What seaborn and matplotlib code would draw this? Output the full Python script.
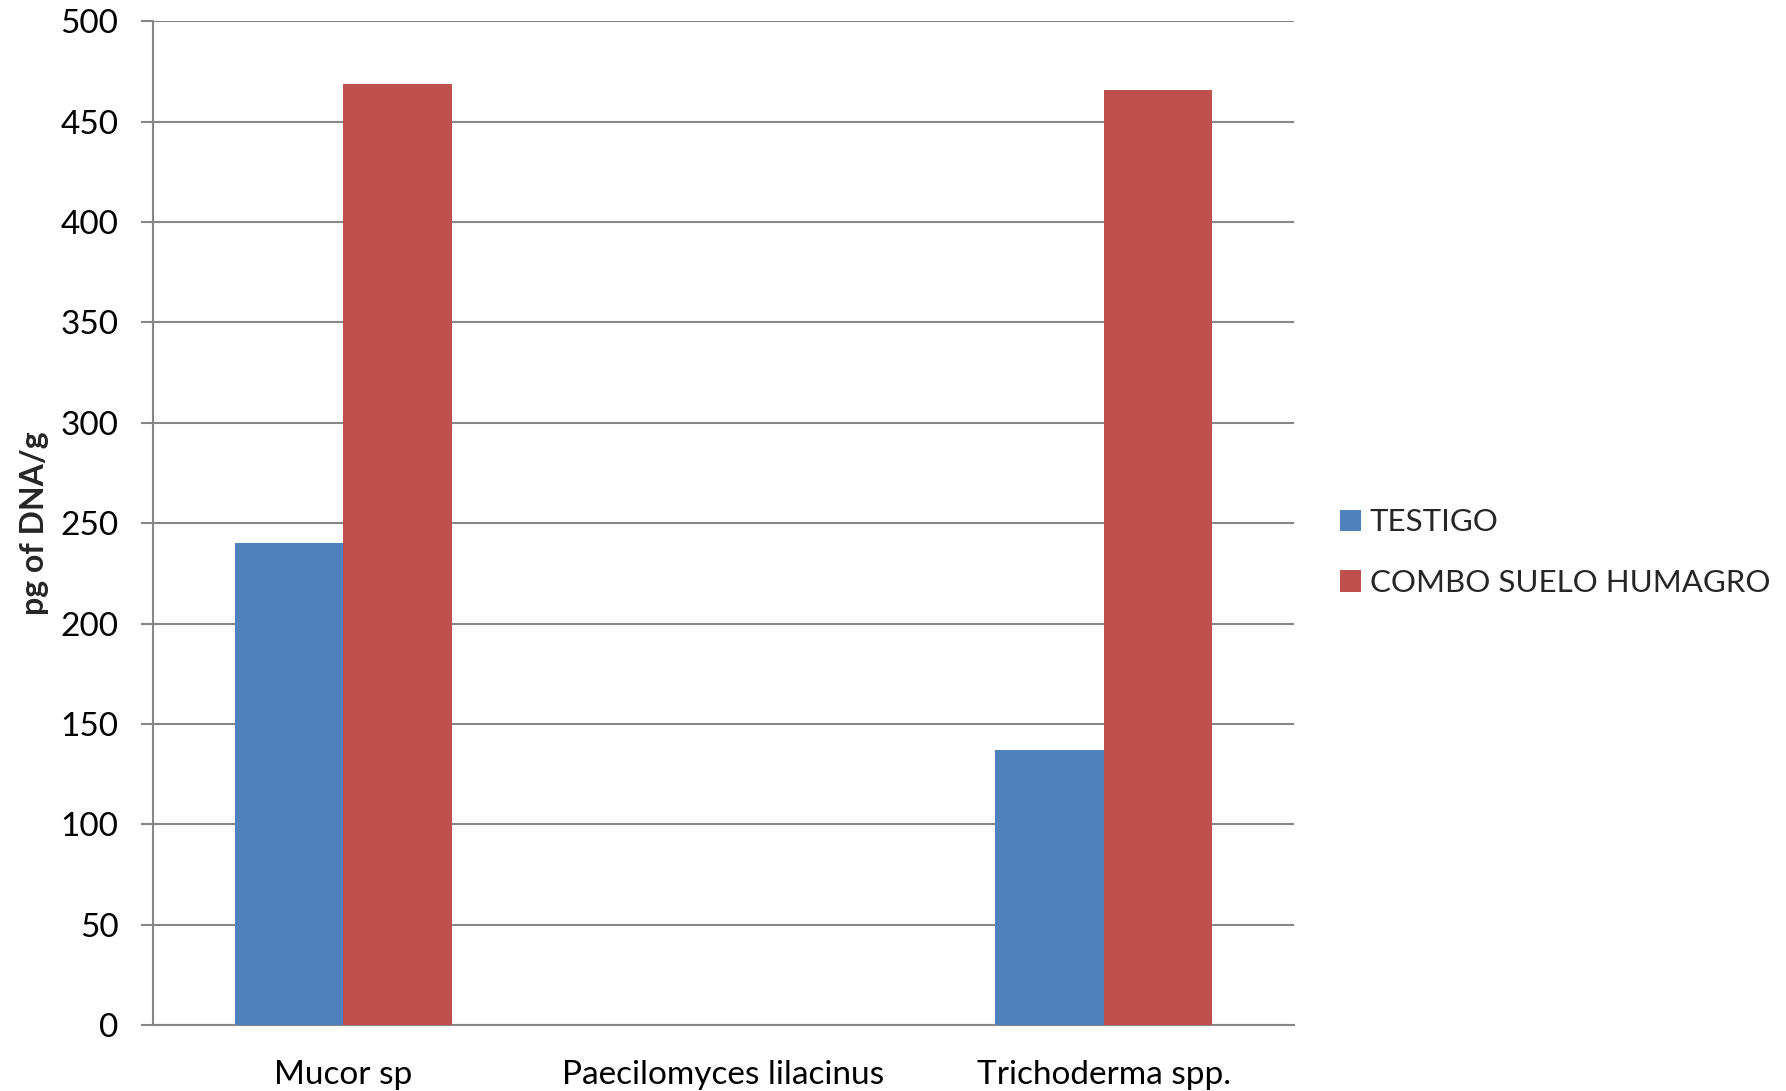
import matplotlib
matplotlib.use("Agg")
import matplotlib.pyplot as plt
import seaborn as sns
import pandas as pd

# Fungal DNA quantities per treatment
categories = ["Mucor sp", "Paecilomyces lilacinus", "Trichoderma spp."]
series_names = ["TESTIGO", "COMBO SUELO HUMAGRO"]
testigo = [240, 0, 137]
combo = [469, 0, 466]
y_ticks = [0, 50, 100, 150, 200, 250, 300, 350, 400, 450, 500]

df = pd.DataFrame({
    "category": categories * 2,
    "series": [series_names[0]] * 3 + [series_names[1]] * 3,
    "value": testigo + combo,
})

sns.set_theme(style="white")
plt.rcParams["font.family"] = ["Lato", "DejaVu Sans"]

fig = plt.figure(figsize=(17.86, 10.91), dpi=100)
ax = fig.add_axes([0.0857, 0.0605, 0.6388, 0.92])

palette = {series_names[0]: "#4F81BD", series_names[1]: "#C0504D"}
sns.barplot(data=df, x="category", y="value", hue="series", order=categories,
            hue_order=series_names, palette=palette, width=0.57,
            saturation=1, linewidth=0, ax=ax, zorder=3)

grid_color = "#868686"
ax.set_ylim(0, 500)
ax.set_xlim(-0.5, 2.5)
ax.set_yticks(y_ticks)
ax.set_yticklabels([str(t) for t in y_ticks], fontsize=24)
ax.yaxis.grid(True, color=grid_color, linewidth=1.5, zorder=0)
ax.set_axisbelow(True)

for side in ["top", "right"]:
    ax.spines[side].set_visible(False)
ax.spines["left"].set_color(grid_color)
ax.spines["left"].set_linewidth(1.5)
ax.spines["bottom"].set_color(grid_color)
ax.spines["bottom"].set_linewidth(1.5)

ax.tick_params(axis="y", which="major", left=True, length=9, width=1.5,
               color=grid_color, pad=16, labelcolor="black")
ax.tick_params(axis="x", which="major", bottom=False, length=0, pad=25,
               labelsize=24, labelcolor="black")

ax.set_xlabel("")
ax.set_ylabel("pg of DNA/g", fontsize=23, fontweight="bold", labelpad=8)

handles, labels = ax.get_legend_handles_labels()
ax.legend(handles, labels, loc="center left", bbox_to_anchor=(1.04, 0.4706),
          frameon=False, fontsize=22.5, handlelength=0.67, handleheight=0.67,
          handletextpad=0.3, labelspacing=1.05, borderaxespad=0, borderpad=0)

fig.savefig("out.png", dpi=100, facecolor="white")
